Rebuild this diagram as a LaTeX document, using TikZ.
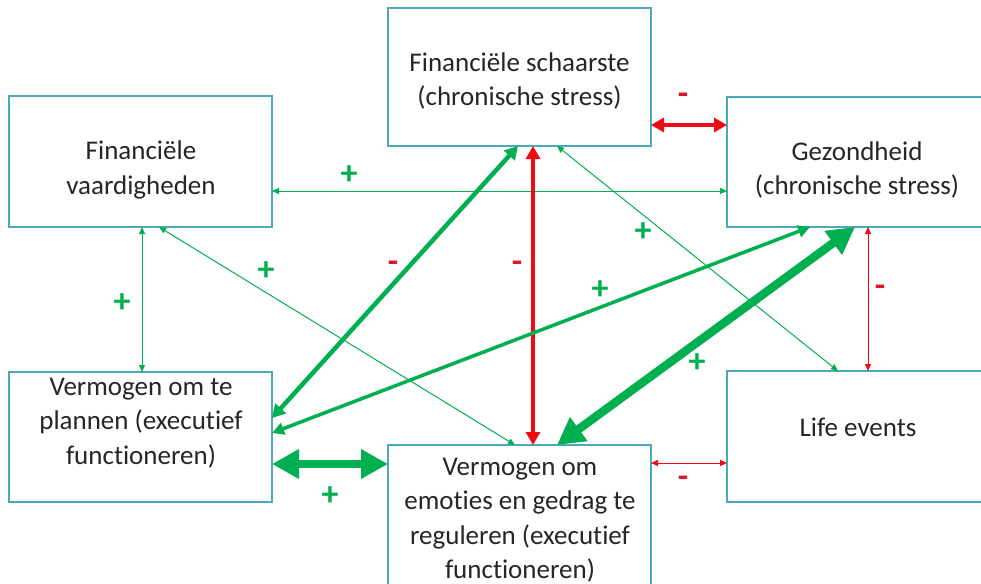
\documentclass[tikz,border=0pt]{standalone}
\usepackage{fontspec}
\setmainfont[Ligatures=NoCommon]{Carlito}
\usetikzlibrary{arrows.meta,calc}
\definecolor{boxc}{RGB}{75,168,190}
\definecolor{gr}{RGB}{0,176,80}
\definecolor{rd}{RGB}{240,10,20}
\definecolor{rdl}{RGB}{215,25,40}
\definecolor{txt}{RGB}{38,38,38}
\begin{document}
\begin{tikzpicture}[x=1pt,y=-1pt,
  box/.style={draw=boxc, line width=1.1pt, minimum width=263pt, inner sep=0pt, outer sep=0pt},
  lbl/.style={text=txt, align=center, font=\fontsize{27}{34.5}\selectfont},
  plus/.style={text=gr, font=\fontsize{34}{34}\selectfont\bfseries, inner sep=0pt},
  minus/.style={text=rdl, font=\fontsize{34}{34}\selectfont\bfseries, inner sep=0pt},
  thin/.style={line width=1pt, {Triangle[length=7pt,width=6pt]}-{Triangle[length=7pt,width=6pt]}},
  medium/.style={line width=3.5pt, {Triangle[length=12pt,width=12pt]}-{Triangle[length=12pt,width=12pt]}},
  mediumb/.style={line width=4.5pt, {Triangle[length=13pt,width=14pt]}-{Triangle[length=13pt,width=14pt]}},
  heavy/.style={line width=8.5pt, {Triangle[length=27pt,width=28pt]}-{Triangle[length=27pt,width=28pt]}}
]
\useasboundingbox (0,0) rectangle (981,583);
\fill[white] (0,0) rectangle (981,583);
% boxes
\node[box, minimum height=138pt] (b1) at (519.5,77) {};
\node[box, minimum height=131pt] (b2) at (140.5,161.5) {};
\node[box, minimum height=130pt] (b3) at (858.5,162) {};
\node[box, minimum height=130pt] (b4) at (140.5,437) {};
\node[box, minimum height=145pt] (b5) at (519.5,517.5) {};
\node[box, minimum height=131pt] (b6) at (858.5,436.5) {};
% texts
\node[lbl] (t1) at (519.5,81) {Financiële schaarste\\(chronische stress)};
\node[lbl] (t2) at (141,170) {Financiële\\vaardigheden};
\node[lbl] (t3) at (857,170) {Gezondheid\\(chronische stress)};
\node[lbl] (t4) at (141,423) {Vermogen om te\\plannen (executief\\functioneren)};
\node[lbl] (t5) at (520,520) {Vermogen om\\emoties en gedrag te\\reguleren (executief\\functioneren)};
\node[lbl] (t6) at (858,427) {Life events};
% connectors
\draw[rd, mediumb] (b1.east |- 0,125) -- (b3.west |- 0,125);
\draw[gr, thin] (b2.east |- 0,191) -- (b3.west |- 0,191);
\draw[gr, thin] (b2.south -| 142,0) -- (b4.north -| 142,0);
\draw[gr, thin] (b5.north -| 515,0) -- (b2.south -| 159,0);
\draw[gr, mediumb] (b4.east |- 0,418) -- (b1.south -| 518,0);
\draw[rd, mediumb] (b1.south -| 533,0) -- (b5.north -| 533,0);
\draw[gr, thin] (b1.south -| 557,0) -- (b6.north -| 838,0);
\draw[gr, medium] (b4.east |- 0,433) -- (b3.south -| 810,0);
\draw[gr, heavy] (b5.north -| 557,0) -- (b3.south -| 855,0);
\draw[rd, thin] (b3.south -| 868,0) -- (b6.north -| 868,0);
\draw[rd, thin] (b5.east |- 0,463) -- (b6.west |- 0,463);
\draw[gr, heavy] (b4.east |- 0,464) -- (b5.west |- 0,464);
% signs
\node[minus] (sA) at (683,99) {-};
\node[plus] (sB) at (349,175) {+};
\node[plus] (sC) at (122,303) {+};
\node[plus] (sD) at (266,271) {+};
\node[minus] (sE) at (393,267) {-};
\node[minus] (sF) at (517,267) {-};
\node[plus] (sG) at (643,232) {+};
\node[plus] (sH) at (600,290) {+};
\node[plus] (sI) at (697,363) {+};
\node[minus] (sJ) at (880,291) {-};
\node[minus] (sK) at (683,482) {-};
\node[plus] (sL) at (330,496) {+};
\end{tikzpicture}
\end{document}
